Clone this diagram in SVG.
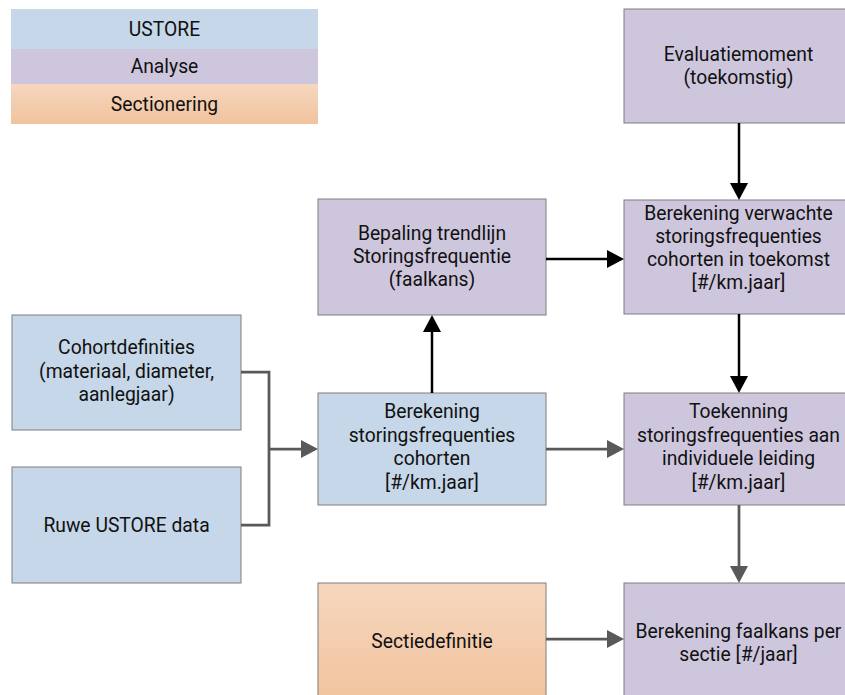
<svg xmlns="http://www.w3.org/2000/svg" width="845" height="695" viewBox="0 0 845 695">
<defs>
<linearGradient id="gOr" x1="0" y1="0" x2="0" y2="1">
<stop offset="0" stop-color="#F6D7BE"/>
<stop offset="1" stop-color="#F1C39E"/>
</linearGradient>
<marker id="aBlack" markerUnits="userSpaceOnUse" markerWidth="18" markerHeight="18" viewBox="0 0 18 18" refX="7" refY="9" orient="auto">
<path d="M0,0 L17,9 L0,18 z" fill="#000"/>
</marker>
<marker id="aGray" markerUnits="userSpaceOnUse" markerWidth="18" markerHeight="18" viewBox="0 0 18 18" refX="7" refY="9" orient="auto">
<path d="M0,0 L17,9 L0,18 z" fill="#595959"/>
</marker>
</defs>
<style>
text { font-family: Roboto, "Liberation Sans", sans-serif; font-size: 19.3px; fill: #111; text-anchor: middle; }
.box { stroke: #7F7F7F; stroke-width: 1; }
.blue { fill: #C5D7E8; }
.purple { fill: #CEC6DD; }
.orange { fill: url(#gOr); }
.cb { fill: none; stroke: #000; stroke-width: 2.5; marker-end: url(#aBlack); }
.cg { fill: none; stroke: #595959; stroke-width: 2.75; }
.cga { marker-end: url(#aGray); }
</style>
<rect width="845" height="695" fill="#fff"/>

<g id="legend">
<rect x="11" y="9" width="307" height="40" class="blue"/>
<rect x="11" y="49" width="307" height="35" class="purple"/>
<rect x="11" y="84" width="307" height="40" class="orange"/>
<text x="164.5" y="35.5">USTORE</text>
<text x="164.5" y="73">Analyse</text>
<text x="164.5" y="110.5">Sectionering</text>
</g>

<g id="evaluatiemoment">
<rect x="624" y="9" width="229" height="114" class="box purple"/>
<text x="738.5" y="61">Evaluatiemoment</text>
<text x="738.5" y="84">(toekomstig)</text>
</g>

<g id="verwachte">
<rect x="624" y="200" width="229" height="114" class="box purple"/>
<text x="738.5" y="220">Berekening verwachte</text>
<text x="738.5" y="243">storingsfrequenties</text>
<text x="738.5" y="266">cohorten in toekomst</text>
<text x="738.5" y="289">[#/km.jaar]</text>
</g>

<g id="bepaling">
<rect x="318" y="199" width="228" height="116" class="box purple"/>
<text x="432" y="240">Bepaling trendlijn</text>
<text x="432" y="263">Storingsfrequentie</text>
<text x="432" y="286">(faalkans)</text>
</g>

<g id="cohortdefinities">
<rect x="12" y="315" width="229" height="115" class="box blue"/>
<text x="126.5" y="354">Cohortdefinities</text>
<text x="126.5" y="377.5">(materiaal, diameter,</text>
<text x="126.5" y="401">aanlegjaar)</text>
</g>

<g id="ruwe">
<rect x="12" y="467" width="229" height="116" class="box blue"/>
<text x="126.5" y="532">Ruwe USTORE data</text>
</g>

<g id="cohorten">
<rect x="318" y="393" width="228" height="112" class="box blue"/>
<text x="432" y="418">Berekening</text>
<text x="432" y="441.5">storingsfrequenties</text>
<text x="432" y="465">cohorten</text>
<text x="432" y="488.5">[#/km.jaar]</text>
</g>

<g id="toekenning">
<rect x="624" y="393" width="229" height="112" class="box purple"/>
<text x="738.5" y="418">Toekenning</text>
<text x="738.5" y="441.5">storingsfrequenties aan</text>
<text x="738.5" y="465">individuele leiding</text>
<text x="738.5" y="488.5">[#/km.jaar]</text>
</g>

<g id="sectiedefinitie">
<rect x="318" y="583" width="228" height="122" class="box orange"/>
<text x="432" y="648">Sectiedefinitie</text>
</g>

<g id="faalkans">
<rect x="624" y="583" width="229" height="122" class="box purple"/>
<text x="738.5" y="637.5">Berekening faalkans per</text>
<text x="738.5" y="661">sectie [#/jaar]</text>
</g>

<g id="connectors">
<path class="cb" d="M739,123 V190"/>
<path class="cb" d="M546,259 H614"/>
<path class="cb" d="M432,393 V325"/>
<path class="cb" d="M739,314 V383"/>
<path class="cg" d="M241,372 H269 V525 H241"/>
<path class="cg cga" d="M269,449 H308"/>
<path class="cg cga" d="M546,449 H614"/>
<path class="cg cga" d="M739,505 V573"/>
<path class="cg cga" d="M546,639 H614"/>
</g>
</svg>
